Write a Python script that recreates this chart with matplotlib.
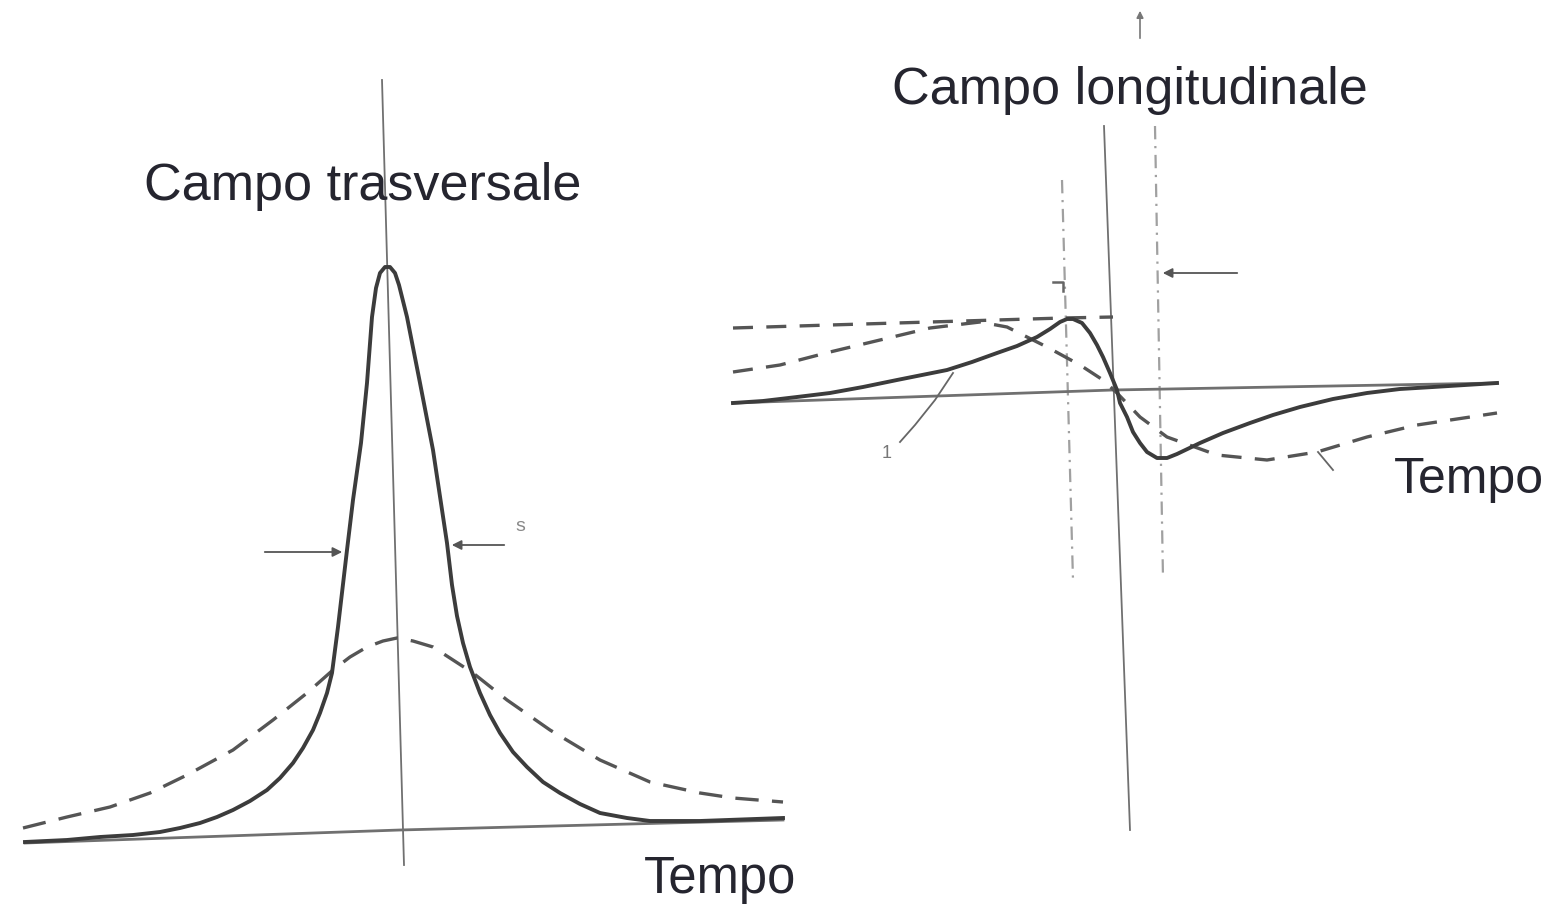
import matplotlib.pyplot as plt

# --- left panel: campo trasversale (time vs field, arbitrary units) ---
t_trasv_solid = [-3.70, -3.28, -2.95, -2.62, -2.35, -2.15, -1.95, -1.78, -1.62, -1.45,
                 -1.28, -1.15, -1.02, -0.92, -0.82, -0.75, -0.68, -0.63, -0.60, -0.57,
                 -0.48, -0.42, -0.34, -0.28, -0.23, -0.19, -0.15, -0.10, -0.05, 0.00,
                 0.04, 0.12, 0.25, 0.38, 0.52, 0.57, 0.62, 0.68, 0.75, 0.85,
                 0.95, 1.05, 1.18, 1.32, 1.48, 1.65, 1.85, 2.05, 2.32, 2.55,
                 3.05, 3.88]
f_trasv_solid = [0.01, 0.03, 0.06, 0.08, 0.11, 0.15, 0.20, 0.26, 0.33, 0.42,
                 0.53, 0.65, 0.80, 0.95, 1.13, 1.30, 1.50, 1.70, 1.93, 2.16,
                 2.93, 3.43, 4.00, 4.60, 5.26, 5.55, 5.70, 5.76, 5.76, 5.70,
                 5.58, 5.26, 4.60, 3.93, 3.00, 2.58, 2.27, 2.00, 1.76, 1.50,
                 1.28, 1.10, 0.91, 0.76, 0.61, 0.50, 0.39, 0.30, 0.25, 0.22,
                 0.22, 0.25]

t_trasv_dash = [-3.72, -3.28, -2.85, -2.45, -2.08, -1.62, -1.22, -0.88, -0.62, -0.45,
                -0.28, -0.12, 0.02, 0.18, 0.38, 0.78, 1.12, 1.55, 2.05, 2.55,
                3.05, 3.38, 3.88]
f_trasv_dash = [0.15, 0.26, 0.36, 0.50, 0.68, 0.93, 1.23, 1.50, 1.73, 1.86,
                1.96, 2.02, 2.05, 2.02, 1.96, 1.70, 1.43, 1.13, 0.83, 0.61,
                0.50, 0.45, 0.41]

t_trasv_base = [-3.70, 0.05, 3.88]
f_trasv_base = [0.00, 0.13, 0.23]

# --- right panel: campo longitudinale ---
t_long_solid = [-3.78, -3.48, -3.14, -2.81, -2.48, -2.14, -1.89, -1.64, -1.39, -1.14,
                -0.94, -0.74, -0.61, -0.51, -0.44, -0.38, -0.29, -0.21, -0.14, -0.08,
                -0.01, 0.06, 0.09, 0.16, 0.22, 0.29, 0.36, 0.46, 0.56, 0.66,
                0.89, 1.12, 1.39, 1.62, 1.89, 2.22, 2.56, 2.89, 3.22, 3.86]
f_long_solid = [0.00, 0.02, 0.06, 0.10, 0.16, 0.23, 0.28, 0.33, 0.41, 0.50,
                0.57, 0.66, 0.74, 0.81, 0.84, 0.84, 0.80, 0.70, 0.58, 0.46,
                0.30, 0.13, 0.00, -0.14, -0.29, -0.40, -0.49, -0.55, -0.55, -0.51,
                -0.40, -0.30, -0.20, -0.12, -0.04, 0.04, 0.10, 0.14, 0.16, 0.20]

t_long_dash = [-3.78, -3.31, -2.81, -2.31, -1.81, -1.31, -1.04, -0.64, -0.31, -0.08,
               0.06, 0.29, 0.56, 1.06, 1.56, 2.06, 2.56, 3.06, 3.86]
f_long_dash = [0.31, 0.38, 0.51, 0.63, 0.75, 0.81, 0.76, 0.56, 0.38, 0.23,
               0.10, -0.14, -0.34, -0.52, -0.57, -0.49, -0.34, -0.22, -0.10]

t_long_level = [-3.78, -2.81, -1.81, -0.48, 0.02]
f_long_level = [0.75, 0.78, 0.81, 0.85, 0.86]

t_long_base = [-3.78, 0.02, 3.86]
f_long_base = [0.00, 0.13, 0.20]

title_left = 'Campo trasversale'
title_right = 'Campo longitudinale'
xlabel = 'Tempo'

curve_col = '#3c3c3c'
axis_col = '#707070'
guide_col = '#a0a0a0'
text_col = '#25252f'
font = ['Liberation Sans', 'DejaVu Sans']

fig = plt.figure(figsize=(15.53, 9.06), dpi=100)
fig.patch.set_facecolor('white')

# left axes: 100 px per unit
axl = fig.add_axes([0, 0, 800 / 1553, 1])
axl.set_xlim(-3.95, 4.05)
axl.set_ylim(-0.63, 8.43)
axl.axis('off')

axl.plot([-0.13, 0.09], [7.63, -0.22], color=axis_col, lw=1.3)
axl.plot(t_trasv_base, f_trasv_base, color=axis_col, lw=2.0)
axl.plot(t_trasv_dash, f_trasv_dash, color='#555555', lw=2.4, ls=(0, (7, 4)))
axl.plot(t_trasv_solid, f_trasv_solid, color=curve_col, lw=2.8,
         solid_joinstyle='round')

arrow = dict(arrowstyle='-|>', color='#555555', lw=1.3, mutation_scale=14)
axl.annotate('', xy=(-0.50, 2.91), xytext=(-1.33, 2.91), arrowprops=arrow)
axl.annotate('', xy=(0.54, 2.98), xytext=(1.12, 2.98), arrowprops=arrow)
axl.text(1.20, 3.12, 's', color='#888888', fontsize=14, family=font)

axl.text(-0.32, 6.43, title_left, ha='center', va='baseline', fontsize=37.5,
         color=text_col, family=font)
axl.text(3.25, -0.50, xlabel, ha='center', va='baseline', fontsize=36.5,
         color=text_col, family=font)

# right axes
axr = fig.add_axes([720 / 1553, 0, 833 / 1553, 1])
axr.set_xlim(-3.91, 4.42)
axr.set_ylim(-5.03, 4.03)
axr.axis('off')

axr.plot([-0.07, 0.19], [2.77, -4.27], color=axis_col, lw=1.3)
axr.annotate('', xy=(0.29, 3.95), xytext=(0.29, 3.62),
             arrowprops=dict(arrowstyle='-|>', color='#777777', lw=1.2,
                             mutation_scale=10))
axr.plot([-0.49, -0.38], [2.23, -1.77], color=guide_col, lw=1.6, ls=(0, (6, 3, 1, 3)))
axr.plot([0.44, 0.52], [2.77, -1.75], color=guide_col, lw=1.6, ls=(0, (6, 3, 1, 3)))
axr.plot([-0.58, -0.48, -0.48], [1.21, 1.21, 1.12], color='#666666', lw=1.8)
axr.annotate('', xy=(0.49, 1.30), xytext=(1.29, 1.30), arrowprops=arrow)

axr.plot(t_long_base, f_long_base, color=axis_col, lw=2.0)
axr.plot(t_long_level, f_long_level, color='#555555', lw=2.4, ls=(0, (6, 4)))
axr.plot(t_long_dash, f_long_dash, color='#555555', lw=2.4, ls=(0, (6, 4)))
axr.plot(t_long_solid, f_long_solid, color=curve_col, lw=2.8,
         solid_joinstyle='round')

axr.plot([-1.58, -1.76, -1.96, -2.11], [0.30, 0.03, -0.22, -0.39],
         color='#666666', lw=1.3)
axr.text(-2.29, -0.55, '1', color='#777777', fontsize=13, family=font)
axr.plot([2.07, 2.22], [-0.49, -0.67], color='#666666', lw=1.3)

axr.text(0.19, 2.99, title_right, ha='center', va='baseline', fontsize=37.5,
         color=text_col, family=font)
axr.text(3.58, -0.90, xlabel, ha='center', va='baseline', fontsize=36,
         color=text_col, family=font)

fig.savefig('out.png', dpi=100, facecolor='white')
